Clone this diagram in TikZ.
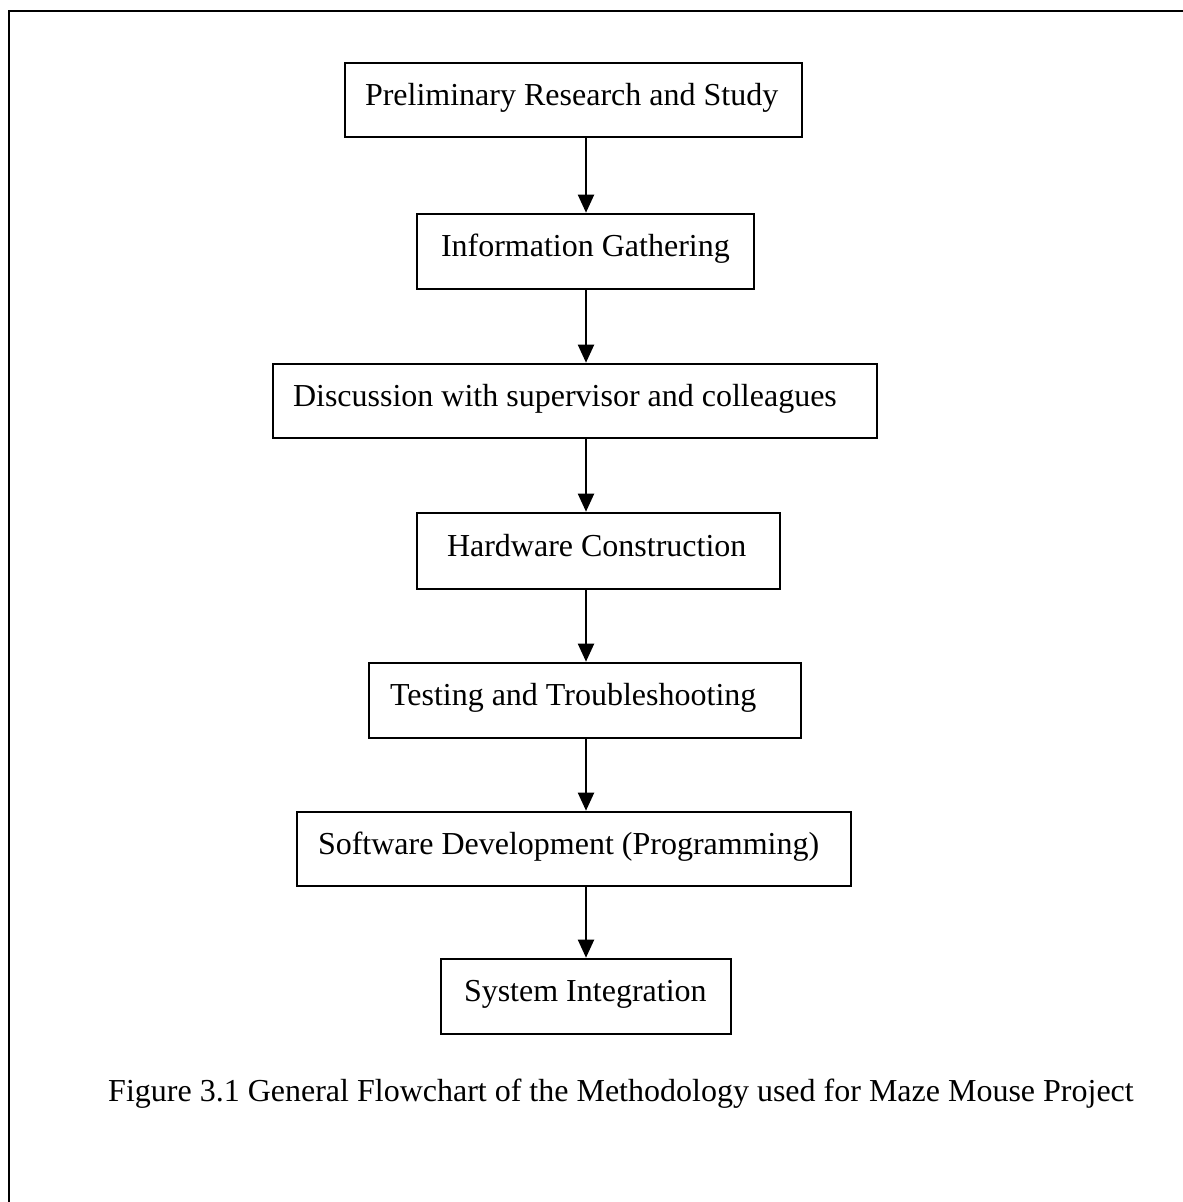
\documentclass[tikz,border=0pt]{standalone}
\usepackage{fontspec}
\setmainfont{Liberation Serif}
\usetikzlibrary{arrows.meta}
\begin{document}
\begin{tikzpicture}[x=1pt,y=-1pt,
  stepbox/.style={draw, line width=2.6pt,
    font=\fontsize{32}{38}\selectfont, text height=20pt, text depth=10pt,
    inner ysep=0pt},
  flow/.style={line width=2pt, -{Triangle[width=16pt,length=18pt]}},
  framebox/.style={line width=2.6pt},
  captiontext/.style={font=\fontsize{32}{38}\selectfont, anchor=base, inner sep=0pt}]
\useasboundingbox (0,0) rectangle (1183,1202);
% outer frame (top and left edges)
\coordinate (fr1) at (1183,11);
\coordinate (fr2) at (9,11);
\coordinate (fr3) at (9,1202);
\draw[framebox] (fr1) -- (fr2) -- (fr3);
% steps
\node[stepbox, minimum height=74pt, inner xsep=20pt] (b1) at (573.5,100) {\makebox[417pt][l]{Preliminary Research and Study}};
\node[stepbox, minimum height=75pt, inner xsep=24pt] (b2) at (585.5,251.5) {\makebox[289pt][l]{Information Gathering}};
\node[stepbox, minimum height=74pt, inner xsep=20pt] (b3) at (575,401) {\makebox[564pt][l]{Discussion with supervisor and colleagues}};
\node[stepbox, minimum height=76pt, inner xsep=30pt] (b4) at (598.5,551) {\makebox[303pt][l]{Hardware Construction}};
\node[stepbox, minimum height=75pt, inner xsep=21pt] (b5) at (585,700.5) {\makebox[390pt][l]{Testing and Troubleshooting}};
\node[stepbox, minimum height=74pt, inner xsep=21pt] (b6) at (574,849) {\makebox[512pt][l]{Software Development (Programming)}};
\node[stepbox, minimum height=75pt, inner xsep=23pt] (b7) at (586,996.5) {\makebox[244pt][l]{System Integration}};
% connectors
\coordinate (ax) at (586,0);
\draw[flow] (b1.south -| ax) -- (b2.north -| ax);
\draw[flow] (b2.south -| ax) -- (b3.north -| ax);
\draw[flow] (b3.south -| ax) -- (b4.north -| ax);
\draw[flow] (b4.south -| ax) -- (b5.north -| ax);
\draw[flow] (b5.south -| ax) -- (b6.north -| ax);
\draw[flow] (b6.south -| ax) -- (b7.north -| ax);
% caption
\node[captiontext] (cap) at (621,1101) {Figure 3.1 General Flowchart of the Methodology used for Maze Mouse Project};
\end{tikzpicture}
\end{document}
